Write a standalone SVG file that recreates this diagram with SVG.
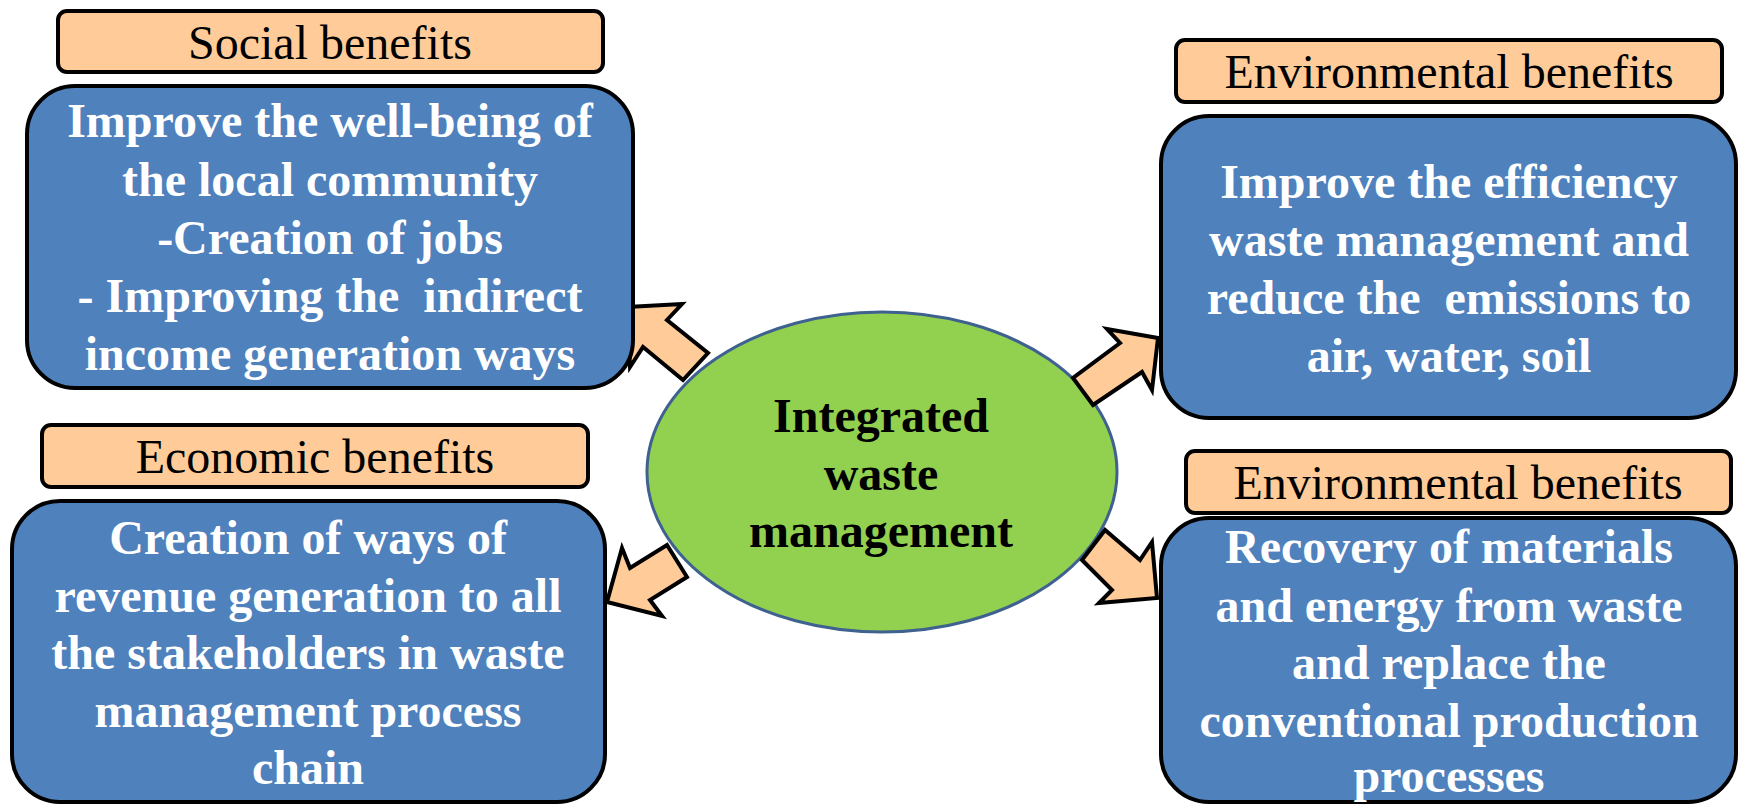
<svg xmlns="http://www.w3.org/2000/svg" width="1743" height="805" viewBox="0 0 1743 805">
<style>
.lbl{fill:#FFCC99;stroke:#000;stroke-width:4}
.box{fill:#4F81BD;stroke:#000;stroke-width:4}
.lt{font-family:"Liberation Serif","Times New Roman",serif;font-size:48px;fill:#000;text-anchor:middle}
.bt{font-family:"Liberation Serif","Times New Roman",serif;font-size:48px;font-weight:bold;fill:#fff;text-anchor:middle}
.ct{font-family:"Liberation Serif","Times New Roman",serif;font-size:48px;font-weight:bold;fill:#000;text-anchor:middle}
.arr{fill:#FFCC99;stroke:#000;stroke-width:4;stroke-linejoin:miter}
</style>
<rect width="1743" height="805" fill="#fff"/>
<g id="center">
<ellipse cx="882" cy="472" rx="235" ry="160" fill="#92D050" stroke="#3F6190" stroke-width="3"/>
<text class="ct" x="881" y="432">Integrated</text>
<text class="ct" x="881" y="490">waste</text>
<text class="ct" x="881" y="547">management</text>
</g>
<g id="connectors">
<polygon class="arr" points="627,307 682,304 667,320 708,353 683,380 643,347 630,367"/>
<polygon class="arr" points="1158,338 1107,329 1120,343 1073,378 1093,405 1142,372 1152,390"/>
<polygon class="arr" points="607,602 622,548 630,568 667,545 687,577 650,600 662,616"/>
<polygon class="arr" points="1157,598 1152,542 1140,560 1105,530 1082,560 1112,590 1099,603"/>
</g>
<g id="social">
<rect class="lbl" x="58" y="11" width="545" height="61" rx="9"/>
<text class="lt" x="330" y="59">Social benefits</text>
<rect class="box" x="27" y="86" width="606" height="302" rx="48"/>
<text class="bt" x="330" y="137">Improve the well-being of</text>
<text class="bt" x="330" y="196">the local community</text>
<text class="bt" x="330" y="254">-Creation of jobs</text>
<text class="bt" x="330" y="312" xml:space="preserve">- Improving the  indirect</text>
<text class="bt" x="330" y="370">income generation ways</text>
</g>
<g id="environmental1">
<rect class="lbl" x="1176" y="40" width="546" height="62" rx="9"/>
<text class="lt" x="1449" y="88">Environmental benefits</text>
<rect class="box" x="1161" y="116" width="575" height="302" rx="48"/>
<text class="bt" x="1449" y="198">Improve the efficiency</text>
<text class="bt" x="1449" y="256">waste management and</text>
<text class="bt" x="1449" y="314" xml:space="preserve">reduce the  emissions to</text>
<text class="bt" x="1449" y="372">air, water, soil</text>
</g>
<g id="economic">
<rect class="lbl" x="42" y="425" width="546" height="62" rx="9"/>
<text class="lt" x="315" y="473">Economic benefits</text>
<rect class="box" x="12" y="501" width="593" height="301" rx="48"/>
<text class="bt" x="308" y="554">Creation of ways of</text>
<text class="bt" x="308" y="612">revenue generation to all</text>
<text class="bt" x="308" y="669">the stakeholders in waste</text>
<text class="bt" x="308" y="727">management process</text>
<text class="bt" x="308" y="784">chain</text>
</g>
<g id="environmental2">
<rect class="lbl" x="1186" y="451" width="545" height="62" rx="9"/>
<text class="lt" x="1458" y="499">Environmental benefits</text>
<rect class="box" x="1161" y="518" width="575" height="284" rx="48"/>
<text class="bt" x="1449" y="563">Recovery of materials</text>
<text class="bt" x="1449" y="622">and energy from waste</text>
<text class="bt" x="1449" y="679">and replace the</text>
<text class="bt" x="1449" y="737">conventional production</text>
<text class="bt" x="1449" y="792">processes</text>
</g>
</svg>
